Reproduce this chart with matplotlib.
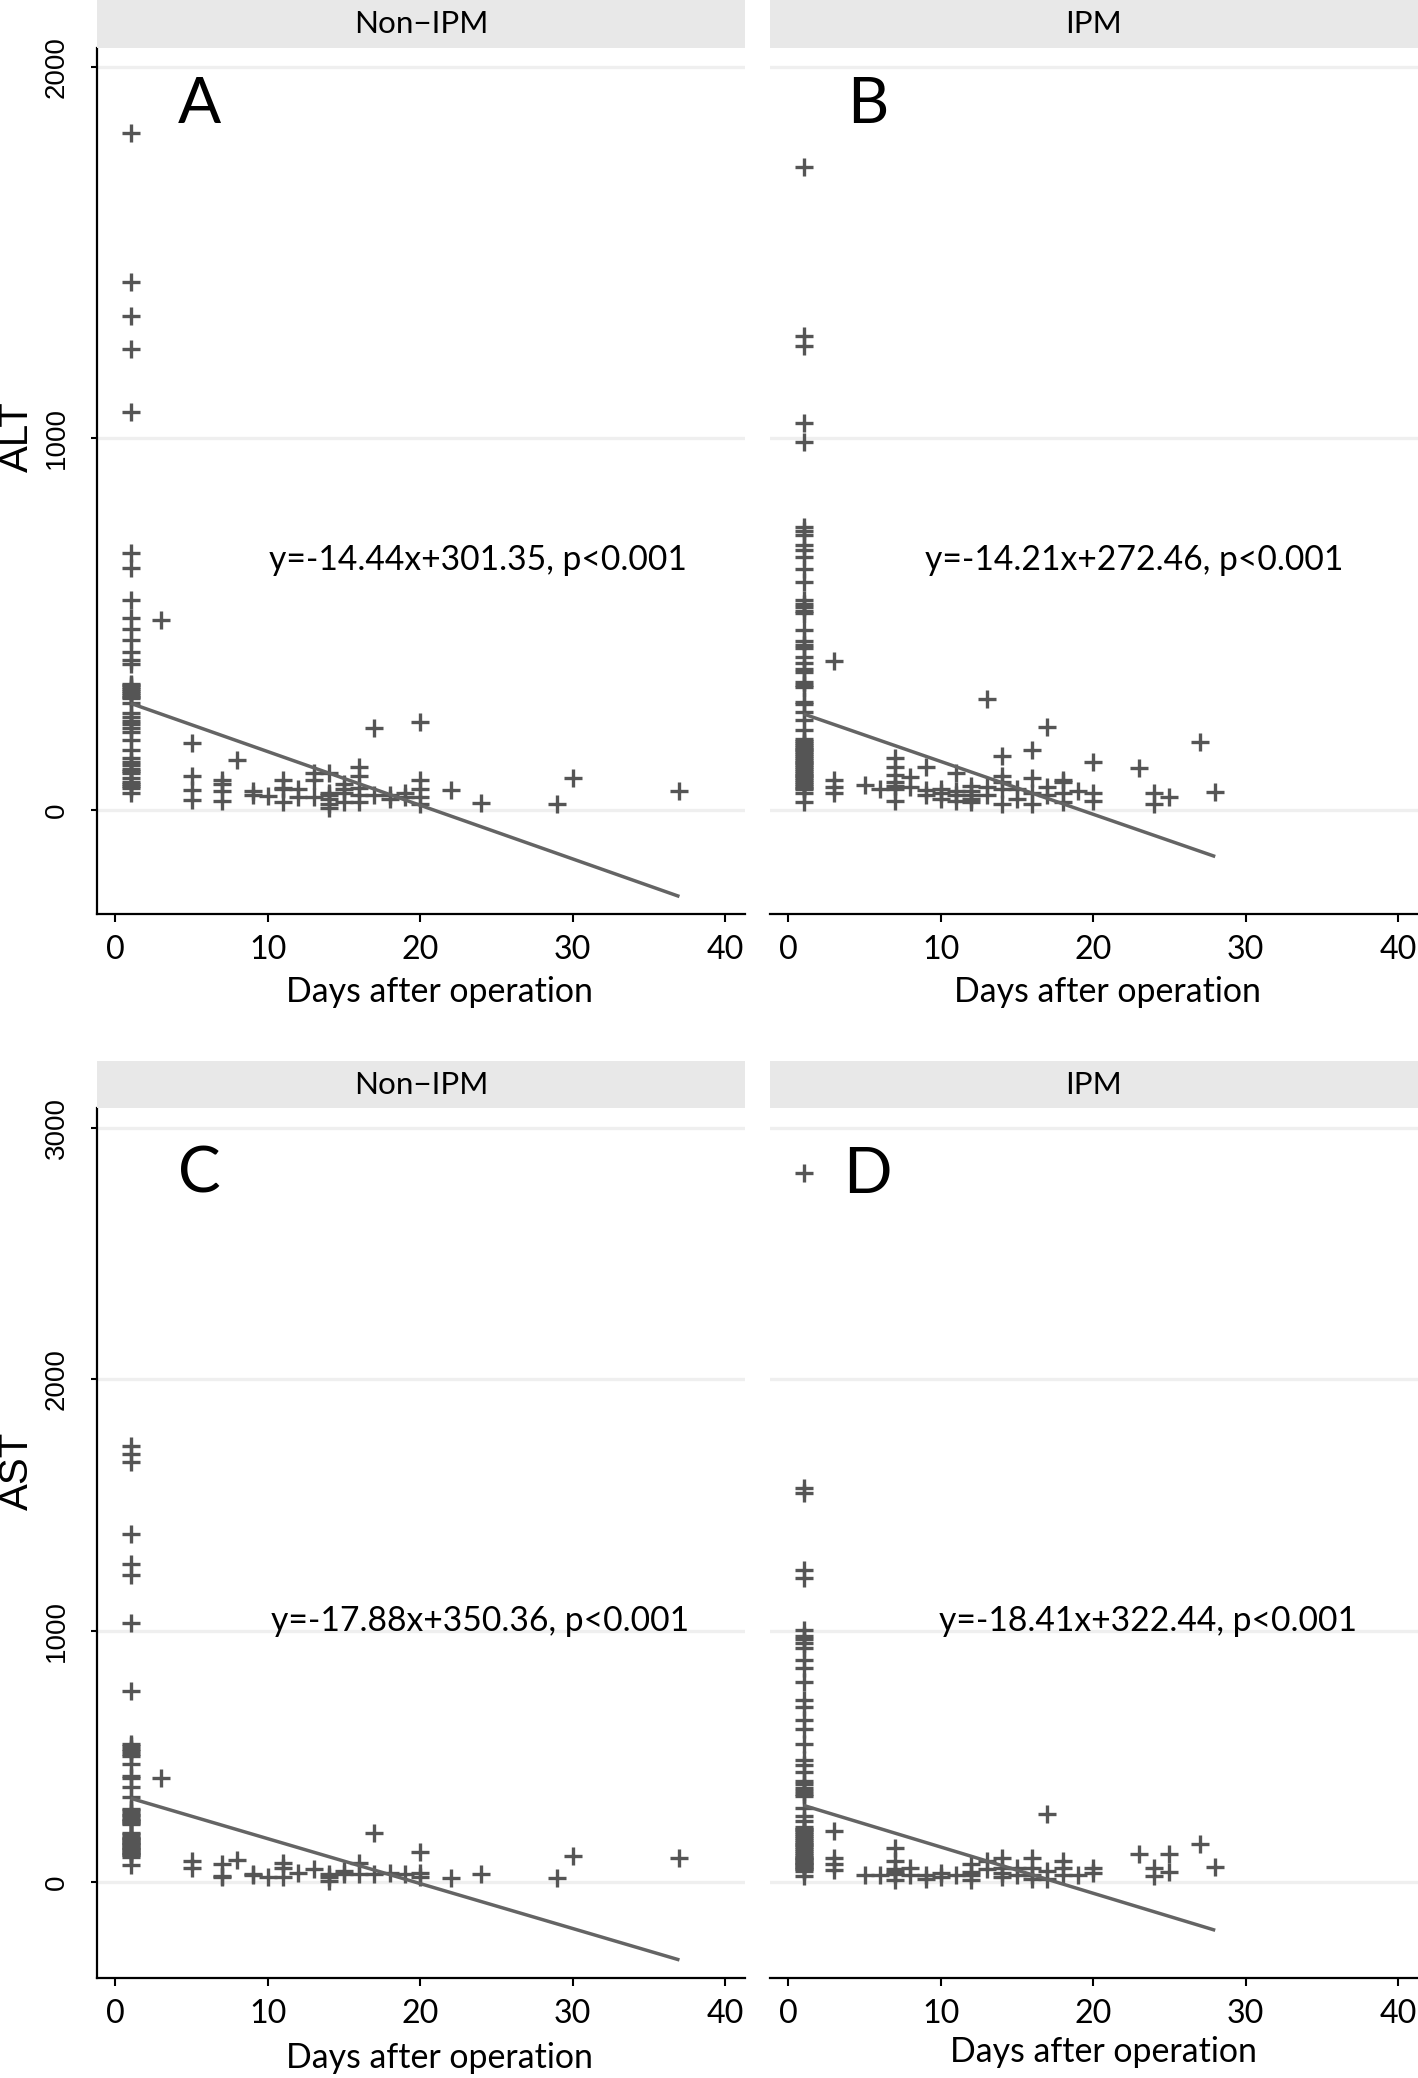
import matplotlib
matplotlib.use("Agg")
import matplotlib.pyplot as plt
from matplotlib import font_manager as fm
from matplotlib.patches import Rectangle

# ---------------- data ----------------
groups = ["Non\u2212IPM", "IPM"]
enzymes = ["ALT", "AST"]
panel_letters = ["A", "B", "C", "D"]

alt_nonipm_days = [1, 3, 5, 7, 8, 9, 10, 11, 12, 13, 14, 15, 16, 17, 18, 19, 20, 22, 24, 29, 30, 37]
alt_nonipm_vals = [
    [1820, 1420, 1330, 1240, 1070, 690, 650, 565, 517, 487, 457, 425, 404, 393, 340, 336, 330, 325,
     320, 315, 310, 305, 300, 288, 260, 250, 240, 230, 220, 210, 188, 161, 140, 130, 120, 110, 105,
     100, 85, 75, 70, 65, 60, 46],
    [511], [180, 91, 54, 27], [80, 70, 50, 25], [134], [50, 40], [38], [80, 60, 55, 20], [55, 35],
    [100, 80, 35], [100, 45, 40, 30, 15, 5], [70, 55, 45, 20], [115, 90, 60, 40, 20], [220, 40],
    [40, 30], [45, 35], [237, 80, 55, 35, 15], [54], [19], [15], [86], [50],
]

alt_ipm_days = [1, 3, 5, 6, 7, 8, 9, 10, 11, 12, 13, 14, 15, 16, 17, 18, 19, 20, 23, 24, 25, 27, 28]
alt_ipm_vals = [
    [1730, 1275, 1248, 1040, 990, 762, 750, 740, 713, 700, 681, 649, 614, 565, 555, 545, 535, 530,
     484, 455, 445, 435, 412, 395, 380, 370, 345, 335, 330, 290, 285, 264, 242, 215, 190, 185, 180,
     175, 170, 165, 160, 155, 150, 145, 140, 135, 130, 125, 120, 115, 110, 105, 100, 95, 90, 85, 80,
     75, 70, 65, 60, 55, 45, 22],
    [401, 81, 62, 45], [67], [56], [140, 115, 95, 75, 65, 55, 25], [89, 62], [116, 54, 40],
    [55, 45, 30], [100, 50, 40, 25], [65, 50, 40, 30, 20], [299, 62, 40], [145, 90, 75, 55, 15],
    [55, 30], [161, 85, 45, 16], [224, 62, 40], [80, 75, 45, 20], [50], [130, 45, 25], [113],
    [45, 15], [36], [183], [49],
]

ast_nonipm_days = [1, 3, 5, 7, 8, 9, 10, 11, 12, 13, 14, 15, 16, 17, 18, 19, 20, 22, 24, 29, 30, 37]
ast_nonipm_vals = [
    [1733, 1701, 1669, 1384, 1263, 1220, 1030, 760, 550, 540, 530, 520, 510, 500, 470, 423, 415, 379,
     339, 290, 285, 275, 265, 260, 250, 245, 240, 235, 230, 195, 190, 180, 175, 170, 165, 160, 155,
     150, 145, 140, 135, 130, 125, 120, 115, 110, 105, 100, 68],
    [415], [84, 56], [72, 24, 20], [88], [32, 28], [20], [76, 56, 20], [36], [52], [32, 20, 4],
    [44, 32], [76, 32], [196, 32], [36], [32], [120, 36, 20], [16], [32], [16], [104], [95],
]

ast_ipm_days = [1, 3, 5, 6, 7, 8, 9, 10, 11, 12, 13, 14, 15, 16, 17, 18, 19, 20, 23, 24, 25, 27, 28]
ast_ipm_vals = [
    [2820, 1569, 1548, 1241, 1210, 1001, 980, 965, 950, 930, 882, 850, 794, 722, 694, 642, 610, 550,
     483, 463, 435, 400, 390, 375, 360, 350, 340, 295, 263, 243, 220, 212, 205, 198, 190, 183, 175,
     168, 160, 152, 145, 138, 130, 122, 115, 108, 100, 95, 90, 85, 80, 75, 70, 65, 60, 55, 50, 44,
     24],
    [203, 96, 72, 48], [28], [28], [136, 84, 50, 40, 30, 8], [56, 28], [28, 12], [36, 20], [28],
    [70, 40, 28, 8], [84, 50], [96, 56, 36, 20], [56, 28], [96, 56, 28, 12], [271, 44, 12],
    [84, 56, 28], [28], [56, 36], [112], [56, 24], [112, 40], [152], [60],
]

fit_slopes = [-14.44, -14.21, -17.88, -18.41]
fit_intercepts = [301.35, 272.46, 350.36, 322.44]
fit_labels = ["y=-14.44x+301.35, p<0.001", "y=-14.21x+272.46, p<0.001",
              "y=-17.88x+350.36, p<0.001", "y=-18.41x+322.44, p<0.001"]

x_ticks = [0, 10, 20, 30, 40]
alt_ticks = [0, 1000, 2000]
ast_ticks = [0, 1000, 2000, 3000]
x_label = "Days after operation"

# ---------------- style ----------------
W, H, DPI = 1418, 2078, 100


def pick(fams):
    for f in fams:
        try:
            fm.findfont(fm.FontProperties(family=f), fallback_to_default=False)
            return f
        except Exception:
            pass
    return "DejaVu Sans"


COND = pick(["Liberation Sans Narrow", "Lato", "Open Sans", "DejaVu Sans"])
SANS = pick(["Liberation Sans", "Arial", "DejaVu Sans"])

fig = plt.figure(figsize=(W / DPI, H / DPI), dpi=DPI)
fig.patch.set_facecolor("white")
renderer = fig.canvas.get_renderer()


def fit(text, family, target_px, shrink=1.0):
    t = fig.text(0, 0, text, fontsize=20, family=family)
    w = t.get_window_extent(renderer).width
    t.remove()
    return 20 * target_px / w * shrink


fs_eq = fit(fit_labels[0], COND, 418, 1.0)
fs_strip = fit("Non\u2212IPM", COND, 138, 0.97)
fs_xlab = fit(x_label, COND, 314, 0.98)
fs_xtick = fs_xlab * 0.95
fs_ytick = 20
fs_ylab = 29
fs_letter = 46

MARK = "#555555"
LINE = "#646464"
GRID = "#EFEFEF"
STRIP = "#E8E8E8"

XLIM = (-1.2, 41.3)
panels = [
    # (days, vals, left, right, top, bottom, ylim, yticks, show_y)
    (alt_nonipm_days, alt_nonipm_vals, 97, 745, 48, 914, (-280, 2050), alt_ticks, True),
    (alt_ipm_days, alt_ipm_vals, 770, 1418, 48, 914, (-280, 2050), alt_ticks, False),
    (ast_nonipm_days, ast_nonipm_vals, 97, 745, 1108, 1978, (-383, 3080), ast_ticks, True),
    (ast_ipm_days, ast_ipm_vals, 770, 1418, 1108, 1978, (-383, 3080), ast_ticks, False),
]
strip_tops = [0, 0, 1061, 1061]
letter_pos = [(5.5, 1897), (5.2, 1897), (5.5, 2815), (5.2, 2815)]
eq_pos = [(23.8, 673), (22.7, 673), (23.9, 1037), (23.6, 1037)]
xlab_pos = [(439, 992), (1108, 992), (439, 2058), (1103, 2052)]

for i, (days, vals, l, r, t, b, ylim, yt, show_y) in enumerate(panels):
    ax = fig.add_axes([l / W, 1 - b / H, (r - l) / W, (b - t) / H])
    ax.set_facecolor("white")
    ax.set_xlim(*XLIM)
    ax.set_ylim(*ylim)
    ax.set_axisbelow(True)
    for s in ["top", "right"]:
        ax.spines[s].set_visible(False)
    ax.spines["bottom"].set_linewidth(1.6)
    ax.spines["left"].set_linewidth(1.6)
    ax.set_yticks(yt)
    ax.yaxis.grid(True, color=GRID, lw=2.4)
    ax.xaxis.grid(False)
    ax.set_xticks(x_ticks)
    ax.set_xticklabels([str(v) for v in x_ticks], family=COND, fontsize=fs_xtick)
    ax.tick_params(axis="x", length=6, width=1.5, pad=9, colors="black")
    if show_y:
        ax.set_yticklabels([str(v) for v in yt], rotation=90, va="center",
                           family=SANS, fontsize=fs_ytick)
        ax.tick_params(axis="y", length=4.5, width=1.5, pad=15)
    else:
        ax.spines["left"].set_visible(False)
        ax.tick_params(axis="y", left=False, labelleft=False)

    # scatter points
    xs, ys = [], []
    for d, vv in zip(days, vals):
        for v in vv:
            xs.append(d)
            ys.append(v)
    ax.plot(xs, ys, linestyle="none", marker="+", ms=13, mew=2.4, color=MARK, zorder=3)

    # regression line
    x0, x1 = min(days), max(days)
    ax.plot([x0, x1], [fit_slopes[i] * x0 + fit_intercepts[i], fit_slopes[i] * x1 + fit_intercepts[i]],
            color=LINE, lw=2.5, zorder=4, solid_capstyle="butt")

    ax.text(*eq_pos[i], fit_labels[i], ha="center", va="center", family=COND, fontsize=fs_eq,
            color="black", zorder=5)
    ax.text(*letter_pos[i], panel_letters[i], ha="center", va="center", family=COND,
            fontsize=fs_letter, color="black", zorder=5)

    # strip
    st = strip_tops[i]
    fig.patches.append(Rectangle((l / W, 1 - t / H), (r - l) / W, (t - st) / H,
                                 transform=fig.transFigure, facecolor=STRIP, edgecolor="none",
                                 zorder=0))
    fig.text((l + r) / 2 / W, 1 - (st + t) / 2 / H, groups[i % 2], ha="center", va="center",
             family=COND, fontsize=fs_strip, color="black")

    # x label
    xl, yl = xlab_pos[i]
    fig.text(xl / W, 1 - yl / H, x_label, ha="center", va="center", family=COND,
             fontsize=fs_xlab, color="black")

# y labels
fig.text(17 / W, 1 - 437 / H, enzymes[0], rotation=90, ha="center", va="center",
         family=SANS, fontsize=fs_ylab, color="black")
fig.text(17 / W, 1 - 1471 / H, enzymes[1], rotation=90, ha="center", va="center",
         family=SANS, fontsize=fs_ylab, color="black")

fig.savefig("out.png", dpi=DPI, facecolor="white")
